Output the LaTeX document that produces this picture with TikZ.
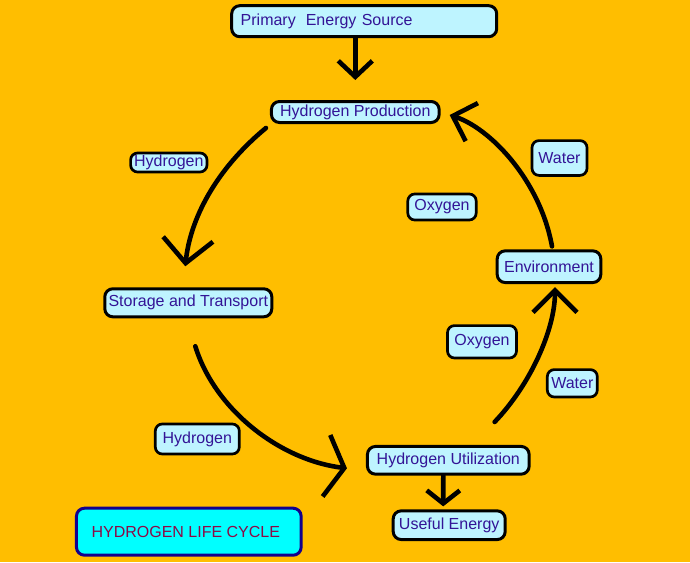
\documentclass[tikz,border=0pt]{standalone}
\usepackage{fontspec}
\setmainfont{Liberation Sans}
\usetikzlibrary{arrows.meta}
\definecolor{bg}{RGB}{255,190,0}
\definecolor{boxfill}{RGB}{190,244,255}
\definecolor{txt}{RGB}{51,20,150}
\definecolor{titlefill}{RGB}{0,255,255}
\definecolor{titleedge}{RGB}{20,0,140}
\definecolor{titletxt}{RGB}{140,10,70}
\begin{document}
\begin{tikzpicture}[x=1pt,y=-1pt,
  box/.style={draw=black, line width=3pt, rounded corners=8pt, fill=boxfill, text=txt,
    font=\fontsize{16pt}{19pt}\selectfont, inner sep=0pt, align=center},
  lbl/.style={box, line width=2.7pt, rounded corners=7pt},
  conn/.style={line width=4.6pt, line cap=round, line join=round},
]
\useasboundingbox (0,0) rectangle (690,562);
\fill[bg] (0,0) rectangle (690,562);

% nodes
\node[box, text width=247pt, align=left, inner xsep=9pt, minimum height=31pt] (prim) at (364.2,21.2) {\raisebox{-2.5pt}{Primary\hspace{10pt}Energy Source}};
\node[box, minimum width=167.7pt, minimum height=21pt] (prod) at (355.3,112) {Hydrogen Production};
\node[lbl, minimum width=76.4pt, minimum height=19pt] (h1) at (168.8,162.5) {Hydrogen};
\node[box, minimum width=167pt, minimum height=28pt] (stor) at (188.3,302.8) {Storage and Transport};
\node[lbl, minimum width=68.4pt, minimum height=26pt] (oxy1) at (442,207) {Oxygen};
\node[lbl, minimum width=55pt, minimum height=34.8pt] (wat1) at (559.5,158) {Water};
\node[box, minimum width=103.6pt, minimum height=31.7pt] (env) at (549,266.7) {Environment};
\node[lbl, minimum width=69pt, minimum height=32.4pt] (oxy2) at (482,341.8) {Oxygen};
\node[lbl, minimum width=50pt, minimum height=27.4pt] (wat2) at (572.3,383.3) {Water};
\node[lbl, minimum width=84pt, minimum height=30pt] (h2) at (197.3,439) {Hydrogen};
\node[box, minimum width=161.7pt, minimum height=27.7pt] (util) at (448.3,460.3) {Hydrogen Utilization};
\node[box, minimum width=112pt, minimum height=28.7pt] (useful) at (449.2,525.2) {Useful Energy};
\node[box, draw=titleedge, fill=titlefill, text=titletxt, minimum width=224.7pt, minimum height=47pt] (title) at (188.8,531.7) {HYDROGEN LIFE CYCLE\hspace{6pt}};

% connectors
\draw[conn, -{Straight Barb[length=16pt,width=34pt]}] (prim.south -| prod.north) -- ([shift={(0,-20)}]prod.north);
\draw[conn, -{Straight Barb[length=13pt,width=33pt]}] ([shift={(-5,0)}]util.south) -- ([shift={(-6,-3)}]useful.north);
\draw[conn, -{Straight Barb[length=24pt,width=50pt]}] ([shift={(-4,4)}]prod.south west) .. controls (215,170) and (190,220) .. ([shift={(-3,-21)}]stor.north);
\draw[conn, -{Straight Barb[length=18pt,width=62pt]}] ([shift={(7,28)}]stor.south) .. controls (215,410) and (280,460) .. ([shift={(-19,8)}]util.west);
\draw[conn, -{Straight Barb[length=22pt,width=44pt]}] ([shift={(-36,-23)}]util.north east) .. controls (530,385) and (555,330) .. ([shift={(6,3)}]env.south);
\draw[conn, -{Straight Barb[length=20pt,width=40pt]}] ([shift={(3,-3)}]env.north) .. controls (540,180) and (490,128) .. ([shift={(9,3)}]prod.east);
\end{tikzpicture}
\end{document}
